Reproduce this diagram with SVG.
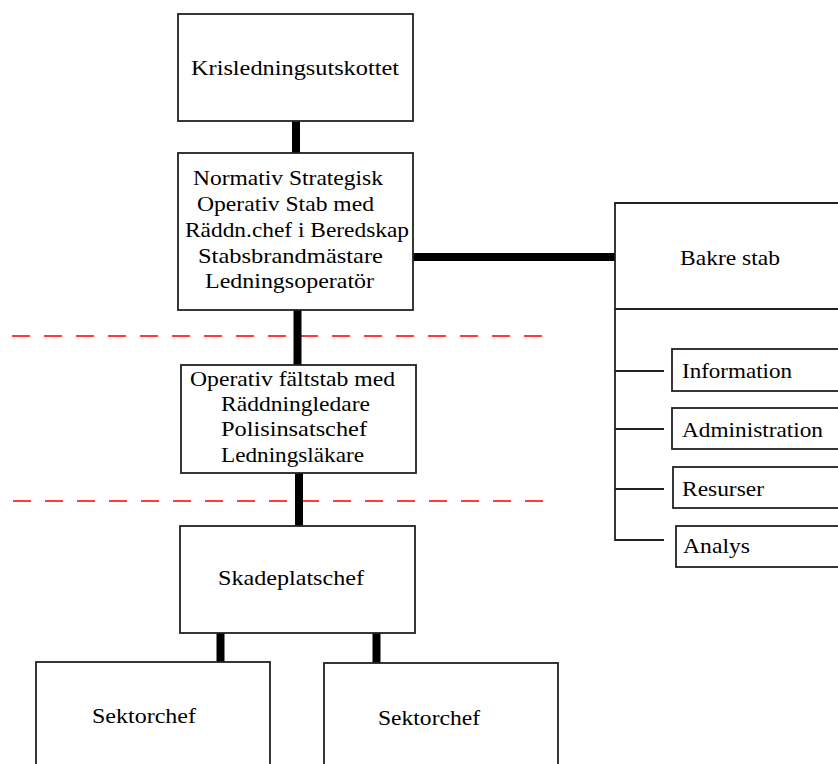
<svg xmlns="http://www.w3.org/2000/svg" width="838" height="764" viewBox="0 0 838 764">
<style>
.box{fill:#fff;stroke:#222;stroke-width:1.8}
.thin{stroke:#222;stroke-width:1.8;fill:none}
.thick{stroke:#000;stroke-width:8;fill:none}
.dash{stroke:#ff3b3b;stroke-width:2;stroke-dasharray:18 14;fill:none}
text{font-family:"Liberation Serif","Times New Roman",serif;font-size:21px;fill:#000}
</style>
<rect width="838" height="764" fill="#fff"/>
<g id="guides">
<line class="dash" x1="12" y1="336" x2="545" y2="336"/>
<line class="dash" x1="13" y1="501" x2="545" y2="501"/>
</g>
<g id="connectors">
<line class="thick" x1="296" y1="121" x2="296" y2="153"/>
<line class="thick" x1="297.5" y1="310" x2="297.5" y2="365"/>
<line class="thick" x1="299" y1="473" x2="299" y2="526"/>
<line class="thick" x1="413" y1="257" x2="615" y2="257"/>
<line class="thick" x1="220.5" y1="633" x2="220.5" y2="662"/>
<line class="thick" x1="376.5" y1="633" x2="376.5" y2="663"/>
<polyline class="thin" points="615,309 615,540 664,540"/>
<line class="thin" x1="615" y1="371" x2="664" y2="371"/>
<line class="thin" x1="615" y1="429" x2="664" y2="429"/>
<line class="thin" x1="615" y1="489" x2="664" y2="489"/>
</g>
<g id="krisledningsutskottet">
<rect class="box" x="178" y="14" width="235" height="107"/>
<text x="191" y="75" textLength="208" lengthAdjust="spacingAndGlyphs">Krisledningsutskottet</text>
</g>
<g id="normativ-strategisk">
<rect class="box" x="178" y="153" width="235" height="157"/>
<text x="193" y="185" textLength="190" lengthAdjust="spacingAndGlyphs">Normativ Strategisk</text>
<text x="197" y="211" textLength="177" lengthAdjust="spacingAndGlyphs">Operativ Stab med</text>
<text x="185" y="237" textLength="224" lengthAdjust="spacingAndGlyphs">Räddn.chef i Beredskap</text>
<text x="198" y="263" textLength="185" lengthAdjust="spacingAndGlyphs">Stabsbrandmästare</text>
<text x="205" y="288" textLength="169" lengthAdjust="spacingAndGlyphs">Ledningsoperatör</text>
</g>
<g id="bakre-stab">
<polyline class="thin" points="838,203 615,203 615,309 838,309"/>
<text x="680" y="265" textLength="100" lengthAdjust="spacingAndGlyphs">Bakre stab</text>
</g>
<g id="information">
<rect class="box" x="672" y="349" width="180" height="42"/>
<text x="682" y="378" textLength="110" lengthAdjust="spacingAndGlyphs">Information</text>
</g>
<g id="administration">
<rect class="box" x="672" y="408" width="180" height="41"/>
<text x="682" y="437" textLength="141" lengthAdjust="spacingAndGlyphs">Administration</text>
</g>
<g id="resurser">
<rect class="box" x="673" y="467" width="180" height="41"/>
<text x="682" y="496" textLength="82" lengthAdjust="spacingAndGlyphs">Resurser</text>
</g>
<g id="analys">
<rect class="box" x="676" y="526" width="180" height="41"/>
<text x="683" y="553" textLength="67" lengthAdjust="spacingAndGlyphs">Analys</text>
</g>
<g id="operativ-faltstab">
<rect class="box" x="181" y="365" width="235" height="108"/>
<text x="190" y="386" textLength="205" lengthAdjust="spacingAndGlyphs">Operativ fältstab med</text>
<text x="221" y="411" textLength="149" lengthAdjust="spacingAndGlyphs">Räddningledare</text>
<text x="221" y="436" textLength="146" lengthAdjust="spacingAndGlyphs">Polisinsatschef</text>
<text x="221" y="462" textLength="143" lengthAdjust="spacingAndGlyphs">Ledningsläkare</text>
</g>
<g id="skadeplatschef">
<rect class="box" x="180" y="526" width="235" height="107"/>
<text x="218" y="585" textLength="146" lengthAdjust="spacingAndGlyphs">Skadeplatschef</text>
</g>
<g id="sektorchef-1">
<rect class="box" x="36" y="662" width="234" height="120"/>
<text x="92" y="723" textLength="104" lengthAdjust="spacingAndGlyphs">Sektorchef</text>
</g>
<g id="sektorchef-2">
<rect class="box" x="324" y="663" width="234" height="120"/>
<text x="378" y="725" textLength="102" lengthAdjust="spacingAndGlyphs">Sektorchef</text>
</g>
</svg>
